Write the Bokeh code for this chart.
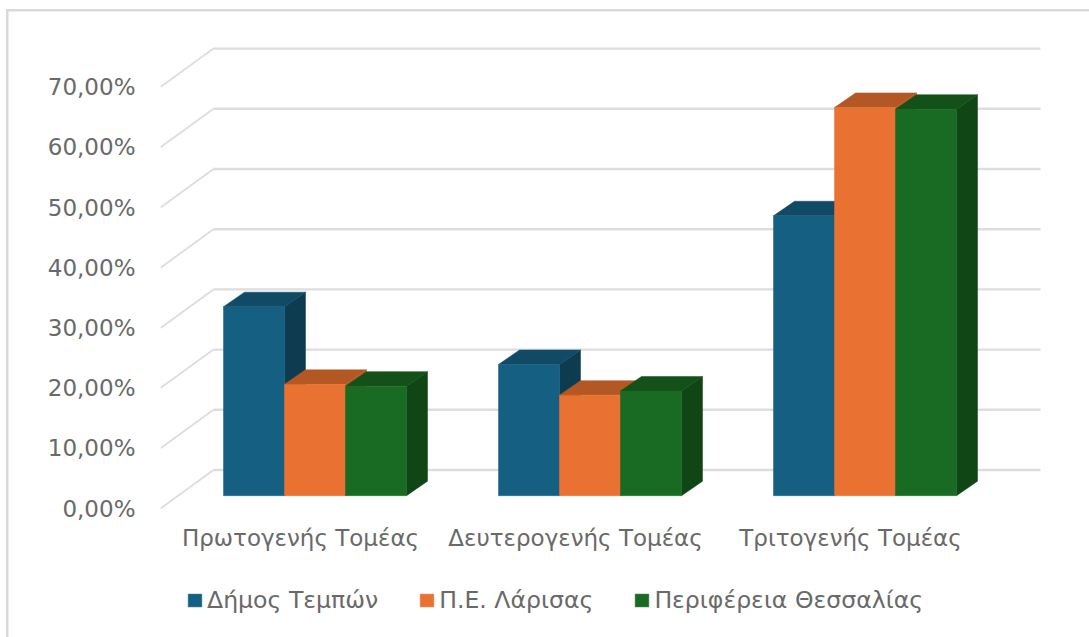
from bokeh.embed import file_html
from bokeh.resources import INLINE
from bokeh.plotting import figure
from bokeh.models import Legend, LegendItem, FixedTicker, Range1d

categories = ["Πρωτογενής Τομέας", "Δευτερογενής Τομέας", "Τριτογενής Τομέας"]
series_names = ["Δήμος Τεμπών", "Π.Ε. Λάρισας", "Περιφέρεια Θεσσαλίας"]
dimos_tempon = [31.4, 21.8, 46.5]
pe_larisas = [18.5, 16.7, 64.5]
perifereia_thessalias = [18.2, 17.4, 64.2]
y_ticks = [0, 10, 20, 30, 40, 50, 60, 70]
y_tick_labels = ["0,00%", "10,00%", "20,00%", "30,00%", "40,00%", "50,00%", "60,00%", "70,00%"]

series_values = [dimos_tempon, pe_larisas, perifereia_thessalias]
front_colors = ["#156082", "#E97132", "#196B24"]
top_colors = ["#114A64", "#B35825", "#135119"]
side_colors = ["#0D3C50", "#B35825", "#104516"]

GRID = "#DDDDDD"
TEXT = "#696969"
FONT = "DejaVu Sans"

PX_X = 275.0   # pixels per category
PX_Y = 6.02    # pixels per percent
bar_w = 61 / PX_X
group_shift = 14.5 / PX_X
base_y = 12.8 / PX_Y
bar_dx = 21 / PX_X
bar_dy = 14.5 / PX_Y
wall_dx = 53 / PX_X
wall_dy = 38.5 / PX_Y
x0 = -140 / PX_X
x1 = 789 / PX_X
back_end = (1040 - 300) / PX_X

p = figure(width=1089, height=637, frame_width=929, frame_height=629,
           x_range=Range1d(x0, x1), y_range=Range1d(-129 / PX_Y, 500 / PX_Y),
           output_backend="svg", toolbar_location=None,
           min_border_left=160, min_border_right=0, min_border_top=8, min_border_bottom=0)
p.outline_line_color = None
p.xgrid.visible = False
p.ygrid.visible = False
p.background_fill_alpha = 0
p.border_fill_alpha = 0
p.styles = {
    "background-color": "white",
    "background-image": "linear-gradient(#D9D9D9,#D9D9D9),linear-gradient(#D9D9D9,#D9D9D9)",
    "background-size": "2.5px 628px, 1083px 2.5px",
    "background-position": "6px 9px, 6px 9px",
    "background-repeat": "no-repeat",
}

# walls: gridlines
p.segment([x0] * len(y_ticks), y_ticks, [x0 + wall_dx] * len(y_ticks), [t + wall_dy for t in y_ticks],
          line_color=GRID, line_width=1.8)
p.segment([x0 + wall_dx] * len(y_ticks), [t + wall_dy for t in y_ticks], [back_end] * len(y_ticks),
          [t + wall_dy for t in y_ticks], line_color=GRID, line_width=2.4)

items = []
for s, (name, vals) in enumerate(zip(series_names, series_values)):
    lefts = [i + group_shift + (s - 1.5) * bar_w for i in range(len(categories))]
    rights = [l + bar_w for l in lefts]
    tops = [base_y + v for v in vals]
    side_x = [[r, r + bar_dx, r + bar_dx, r] for r in rights]
    side_y = [[base_y, base_y + bar_dy, t + bar_dy, t] for t in tops]
    top_x = [[l, l + bar_dx, r + bar_dx, r] for l, r in zip(lefts, rights)]
    top_y = [[t, t + bar_dy, t + bar_dy, t] for t in tops]
    p.patches(side_x, side_y, fill_color=side_colors[s], line_color=side_colors[s], line_width=0.5)
    p.patches(top_x, top_y, fill_color=top_colors[s], line_color=top_colors[s], line_width=0.5)
    r = p.quad(left=lefts, right=rights, bottom=[base_y] * len(vals), top=tops,
               fill_color=front_colors[s], line_color=front_colors[s], line_width=0.5)
    items.append(LegendItem(label=name, renderers=[r]))

# axes
ya = p.yaxis[0]
ya.ticker = FixedTicker(ticks=y_ticks)
ya.major_label_overrides = dict(zip(y_ticks, y_tick_labels))
ya.axis_line_color = None
ya.major_tick_line_color = None
ya.minor_tick_line_color = None
ya.major_label_standoff = 19
ya.major_label_text_font = FONT
ya.major_label_text_font_size = "23px"
ya.major_label_text_color = TEXT

xa = p.xaxis[0]
xa.fixed_location = 0
xa.ticker = FixedTicker(ticks=list(range(len(categories))))
xa.major_label_overrides = dict(zip(range(len(categories)), categories))
xa.axis_line_color = None
xa.major_tick_line_color = None
xa.minor_tick_line_color = None
xa.major_label_standoff = 10
xa.major_label_text_font = FONT
xa.major_label_text_font_size = "23px"
xa.major_label_text_color = TEXT

legend = Legend(items=items, orientation="horizontal", location=(26, 23),
                border_line_color=None, background_fill_alpha=0,
                glyph_width=17, glyph_height=16, label_standoff=4, spacing=40,
                padding=0, margin=0, label_height=20,
                label_text_font=FONT, label_text_font_size="23.6px", label_text_color=TEXT)
p.add_layout(legend, "center")

open("out.html", "w").write(file_html(p, INLINE))
